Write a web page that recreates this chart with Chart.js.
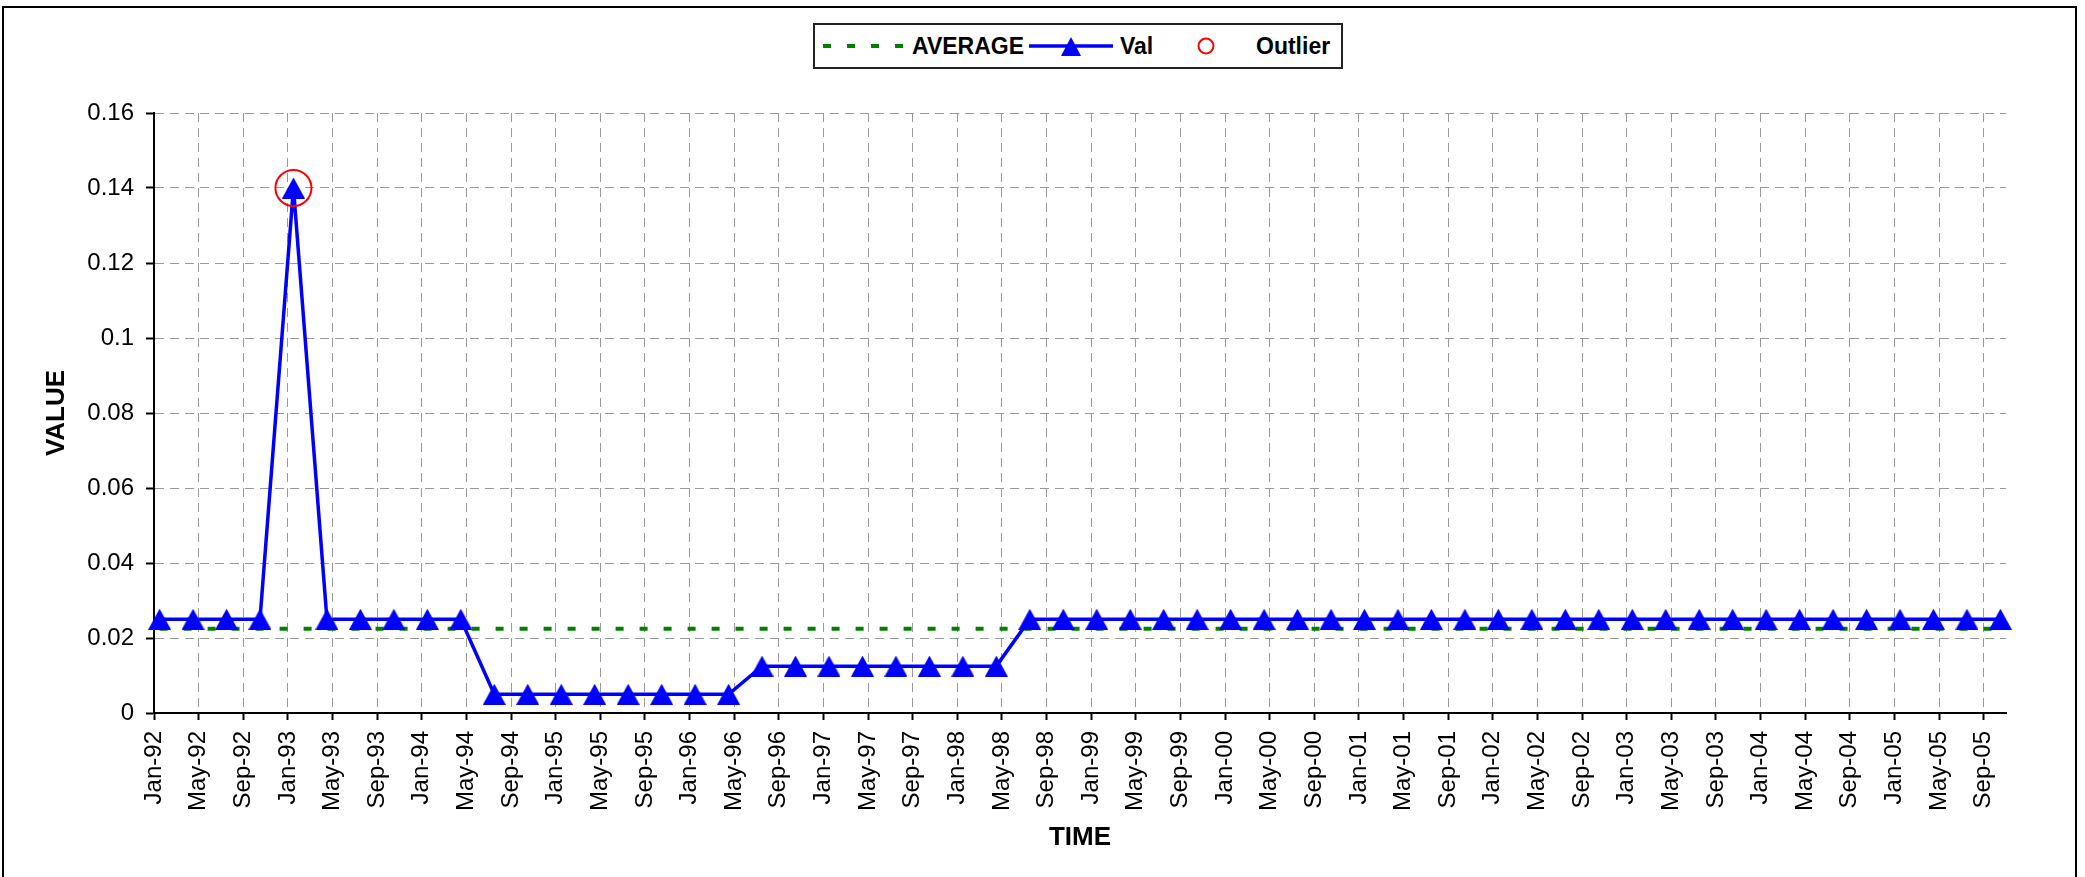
<!DOCTYPE html>
<html>
<head>
<meta charset="utf-8">
<title>VALUE / TIME</title>
<script src="https://cdn.jsdelivr.net/npm/chart.js@4.4.0/dist/chart.umd.min.js"></script>
<style>
    body { margin: 0; background: #fff; }
    #wrap { position: relative; width: 2085px; height: 877px; overflow: hidden; }
    #frame {
        position: absolute; left: 2px; top: 6px; width: 2075px; height: 900px;
        box-sizing: border-box; border: 2px solid #000;
    }
    #legend {
        position: absolute; left: 813px; top: 23px; width: 530px; height: 46px;
        box-sizing: border-box; border: 2px solid #222; background: #fff;
        font: bold 23px 'Liberation Sans', Arial, Helvetica, sans-serif; color: #000;
    }
    #legend span { position: absolute; top: 0; line-height: 42px; white-space: nowrap; }
    #legend svg { position: absolute; left: 0; top: 0; }
    #chart { position: absolute; left: 0; top: 0; }
</style>
</head>
<body>
<div id="wrap">
    <div id="frame"></div>
    <canvas id="chart" width="2085" height="877"></canvas>
    <div id="legend">
        <svg width="526" height="42">
            <line x1="8" y1="21" x2="88" y2="21" stroke="#008000" stroke-width="4" stroke-dasharray="8 16"/>
            <line x1="214" y1="21" x2="298" y2="21" stroke="#0000FF" stroke-width="3.5"/>
            <polygon points="246,31 256,12 266,31" fill="#0000FF"/>
            <circle cx="391" cy="21" r="7.5" fill="none" stroke="#FF0000" stroke-width="2"/>
        </svg>
        <span style="left:97px">AVERAGE</span>
        <span style="left:305px">Val</span>
        <span style="left:441px">Outlier</span>
    </div>
</div>
<script>
// quarterly observations
var dates = [
    'Jan-92', 'Apr-92', 'Jul-92', 'Oct-92',
    'Jan-93', 'Apr-93', 'Jul-93', 'Oct-93',
    'Jan-94', 'Apr-94', 'Jul-94', 'Oct-94',
    'Jan-95', 'Apr-95', 'Jul-95', 'Oct-95',
    'Jan-96', 'Apr-96', 'Jul-96', 'Oct-96',
    'Jan-97', 'Apr-97', 'Jul-97', 'Oct-97',
    'Jan-98', 'Apr-98', 'Jul-98', 'Oct-98',
    'Jan-99', 'Apr-99', 'Jul-99', 'Oct-99',
    'Jan-00', 'Apr-00', 'Jul-00', 'Oct-00',
    'Jan-01', 'Apr-01', 'Jul-01', 'Oct-01',
    'Jan-02', 'Apr-02', 'Jul-02', 'Oct-02',
    'Jan-03', 'Apr-03', 'Jul-03', 'Oct-03',
    'Jan-04', 'Apr-04', 'Jul-04', 'Oct-04',
    'Jan-05', 'Apr-05', 'Jul-05', 'Oct-05'
];
var values = [
    0.025, 0.025, 0.025, 0.025,
    0.14, 0.025, 0.025, 0.025,
    0.025, 0.025, 0.005, 0.005,
    0.005, 0.005, 0.005, 0.005,
    0.005, 0.005, 0.0125, 0.0125,
    0.0125, 0.0125, 0.0125, 0.0125,
    0.0125, 0.0125, 0.025, 0.025,
    0.025, 0.025, 0.025, 0.025,
    0.025, 0.025, 0.025, 0.025,
    0.025, 0.025, 0.025, 0.025,
    0.025, 0.025, 0.025, 0.025,
    0.025, 0.025, 0.025, 0.025,
    0.025, 0.025, 0.025, 0.025,
    0.025, 0.025, 0.025, 0.025
];

var average_dates = ['Jan-92', 'Oct-05'];
var average_values = [0.0225, 0.0225];

var outlier_dates = ['Jan-93'];
var outlier_values = [0.14];

var tick_labels = [
    'Jan-92', 'May-92', 'Sep-92', 'Jan-93', 'May-93', 'Sep-93',
    'Jan-94', 'May-94', 'Sep-94', 'Jan-95', 'May-95', 'Sep-95',
    'Jan-96', 'May-96', 'Sep-96', 'Jan-97', 'May-97', 'Sep-97',
    'Jan-98', 'May-98', 'Sep-98', 'Jan-99', 'May-99', 'Sep-99',
    'Jan-00', 'May-00', 'Sep-00', 'Jan-01', 'May-01', 'Sep-01',
    'Jan-02', 'May-02', 'Sep-02', 'Jan-03', 'May-03', 'Sep-03',
    'Jan-04', 'May-04', 'Sep-04', 'Jan-05', 'May-05', 'Sep-05'
];
var y_ticks = [0, 0.02, 0.04, 0.06, 0.08, 0.1, 0.12, 0.14, 0.16];

var MONTHS = ['Jan', 'Feb', 'Mar', 'Apr', 'May', 'Jun', 'Jul', 'Aug', 'Sep', 'Oct', 'Nov', 'Dec'];

// months since Jan-92
function monthIndex(s) {
    var yy = parseInt(s.slice(4), 10);
    var year = yy < 50 ? yy + 100 : yy;
    return (year - 92) * 12 + MONTHS.indexOf(s.slice(0, 3));
}

// points sit in the middle of their month, like the date axis they came from
function toPoints(d, v) {
    return d.map((a, i) => ({ x: monthIndex(a) + 0.5, y: v[i] }));
}

var FONT = "'Liberation Sans', Arial, Helvetica, sans-serif";

// filled triangle marker
var tri = document.createElement('canvas');
tri.width = 23;
tri.height = 21;
var tctx = tri.getContext('2d');
tctx.fillStyle = '#0000FF';
tctx.beginPath();
tctx.moveTo(0, 21);
tctx.lineTo(11.5, 0);
tctx.lineTo(23, 21);
tctx.closePath();
tctx.fill();

var chartCanvas = document.getElementById('chart').getContext('2d');

new Chart(chartCanvas, {
    type: 'line',
    data: {
        datasets: [{
            label: 'Outlier',
            data: toPoints(outlier_dates, outlier_values),
            showLine: false,
            pointStyle: 'circle',
            pointRadius: 18,
            pointBorderWidth: 2,
            pointBorderColor: '#FF0000',
            pointBackgroundColor: 'rgba(0,0,0,0)',
            clip: false
        }, {
            label: 'Val',
            data: toPoints(dates, values),
            borderColor: '#0000FF',
            borderWidth: 3.5,
            pointStyle: tri,
            pointRadius: 11,
            tension: 0,
            fill: false,
            clip: false
        }, {
            label: 'AVERAGE',
            data: toPoints(average_dates, average_values),
            borderColor: '#008000',
            borderWidth: 4,
            borderDash: [8, 16],
            pointRadius: 0,
            fill: false,
            clip: false
        }]
    },
    options: {
        responsive: false,
        animation: false,
        events: [],
        layout: {
            padding: { left: 41, top: 113, right: 79, bottom: 0 }
        },
        plugins: {
            legend: { display: false },
            tooltip: { enabled: false }
        },
        scales: {
            x: {
                type: 'linear',
                min: 0,
                max: 166,
                afterBuildTicks: function (scale) {
                    scale.ticks = tick_labels.map(t => ({ value: monthIndex(t) }));
                },
                afterFit: function (scale) {
                    scale.height = 164;
                },
                ticks: {
                    autoSkip: false,
                    minRotation: 90,
                    maxRotation: 90,
                    padding: 11,
                    color: '#000',
                    font: { family: FONT, size: 24 },
                    callback: (value, index) => tick_labels[index]
                },
                grid: {
                    color: '#999',
                    lineWidth: 1,
                    tickColor: '#000',
                    tickWidth: 2,
                    tickLength: 7
                },
                border: { color: '#000', width: 2, dash: [9, 6] },
                title: {
                    display: true,
                    text: 'TIME',
                    color: '#000',
                    font: { family: FONT, size: 26, weight: 'bold' },
                    padding: { top: 0, bottom: 24 }
                }
            },
            y: {
                min: 0,
                max: 0.16,
                afterBuildTicks: function (scale) {
                    scale.ticks = y_ticks.map(v => ({ value: v }));
                },
                afterFit: function (scale) {
                    scale.width = 113;
                },
                ticks: {
                    padding: 12,
                    color: '#000',
                    font: { family: FONT, size: 24 },
                    callback: value => String(+value.toFixed(2))
                },
                grid: {
                    color: '#999',
                    lineWidth: 1,
                    tickColor: '#000',
                    tickWidth: 2,
                    tickLength: 8
                },
                border: { color: '#000', width: 2, dash: [9, 6] },
                title: {
                    display: true,
                    text: 'VALUE',
                    color: '#000',
                    font: { family: FONT, size: 26, weight: 'bold' },
                    padding: { top: 0, bottom: 0 }
                }
            }
        }
    }
});
</script>
</body>
</html>
